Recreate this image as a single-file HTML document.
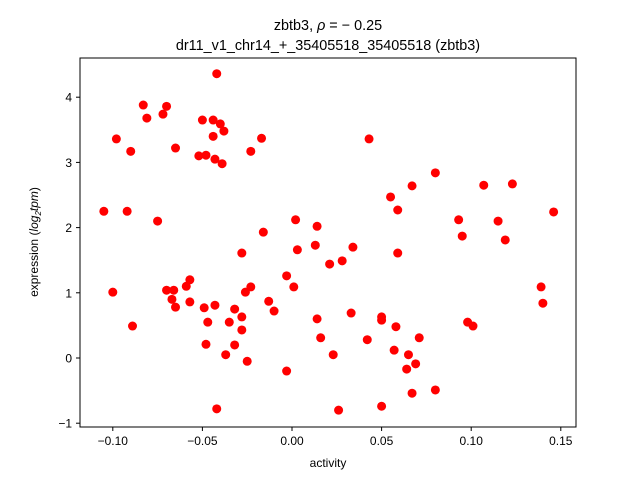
<!DOCTYPE html>
<html><head><meta charset="utf-8"><style>body{margin:0;background:#fff}svg{font-family:"Liberation Sans","DejaVu Sans",sans-serif}</style></head>
<body>
<svg id="chart" width="640" height="480" xmlns="http://www.w3.org/2000/svg">
<rect width="640" height="480" fill="#fff"/>
<text x="328" y="30" text-anchor="middle" font-size="14.4">zbtb3, <tspan font-style="italic">ρ</tspan> = − 0.25</text>
<text x="328" y="50" text-anchor="middle" font-size="14.4">dr11_v1_chr14_+_35405518_35405518 (zbtb3)</text>
<g id="points"></g>
<rect x="80" y="58" width="496" height="369" fill="none" stroke="#000" stroke-width="1"/>
<g id="xt"></g>
<g id="yt"></g>
<text x="328" y="467" text-anchor="middle" font-size="12">activity</text>
<text transform="translate(38,242) rotate(-90)" text-anchor="middle" font-size="12">expression (<tspan font-style="italic">log</tspan><tspan font-size="8" dy="3" font-style="italic">2</tspan><tspan dy="-3" font-style="italic">tpm</tspan>)</text>
</svg>
<script>
const xs=[-0.042,-0.083,-0.070,-0.081,-0.072,-0.098,-0.090,-0.065,-0.050,-0.044,-0.040,-0.038,-0.044,-0.017,0.043,-0.052,-0.048,-0.043,-0.039,-0.023,-0.105,-0.092,-0.075,-0.016,0.002,0.014,0.003,0.013,0.034,0.021,0.028,-0.028,0.055,0.059,0.067,0.080,0.059,0.093,0.095,0.107,0.115,0.119,0.123,0.146,0.139,0.140,0.098,0.101,-0.100,-0.089,-0.070,-0.066,-0.067,-0.065,-0.057,-0.059,-0.057,-0.049,-0.043,-0.047,-0.035,-0.032,-0.028,-0.028,-0.026,-0.023,-0.048,-0.032,-0.037,-0.025,-0.013,-0.010,-0.003,0.001,-0.003,-0.042,0.026,0.014,0.016,0.023,0.033,0.042,0.050,0.050,0.050,0.058,0.057,0.065,0.064,0.071,0.069,0.067,0.080];
const ys=[4.36,3.88,3.86,3.68,3.74,3.36,3.17,3.22,3.65,3.65,3.59,3.48,3.40,3.37,3.36,3.10,3.11,3.05,2.98,3.17,2.25,2.25,2.10,1.93,2.12,2.02,1.66,1.73,1.70,1.44,1.49,1.61,2.47,2.27,2.64,2.84,1.61,2.12,1.87,2.65,2.10,1.81,2.67,2.24,1.09,0.84,0.55,0.49,1.01,0.49,1.04,1.04,0.90,0.78,1.20,1.10,0.86,0.77,0.81,0.55,0.55,0.75,0.63,0.43,1.01,1.09,0.21,0.20,0.05,-0.05,0.87,0.72,1.26,1.09,-0.20,-0.78,-0.80,0.60,0.31,0.05,0.69,0.28,0.63,0.58,-0.74,0.48,0.12,0.05,-0.17,0.31,-0.09,-0.54,-0.49];
const xTicks=[-0.10,-0.05,0.00,0.05,0.10,0.15];
const xLabels=["−0.10","−0.05","0.00","0.05","0.10","0.15"];
const yTicks=[-1,0,1,2,3,4];
const yLabels=["−1","0","1","2","3","4"];
const X=v=>292+v*1792, Y=v=>358-v*65.2;
const NS="http://www.w3.org/2000/svg";
const pg=document.getElementById('points');
xs.forEach((x,i)=>{const c=document.createElementNS(NS,'circle');c.setAttribute('cx',X(x));c.setAttribute('cy',Y(ys[i]));c.setAttribute('r',4.5);c.setAttribute('fill','#ff0000');


pg.appendChild(c);});
const xt=document.getElementById('xt');
xTicks.forEach((t,i)=>{const x=X(t);const l=document.createElementNS(NS,'line');l.setAttribute('x1',x);l.setAttribute('x2',x);l.setAttribute('y1',427);l.setAttribute('y2',431);l.setAttribute('stroke','#000');


xt.appendChild(l);const s=document.createElementNS(NS,'text');s.setAttribute('x',x);s.setAttribute('y',445);s.setAttribute('text-anchor','middle');s.setAttribute('font-size','12');s.textContent=xLabels[i];


xt.appendChild(s);});
const yt=document.getElementById('yt');
yTicks.forEach((t,i)=>{const y=Y(t);const l=document.createElementNS(NS,'line');l.setAttribute('x1',76);l.setAttribute('x2',80);l.setAttribute('y1',y);l.setAttribute('y2',y);l.setAttribute('stroke','#000');


yt.appendChild(l);const s=document.createElementNS(NS,'text');s.setAttribute('x',72);s.setAttribute('y',y+4.5);s.setAttribute('text-anchor','end');s.setAttribute('font-size','12');s.textContent=yLabels[i];


yt.appendChild(s);});
</script>
</body></html>
